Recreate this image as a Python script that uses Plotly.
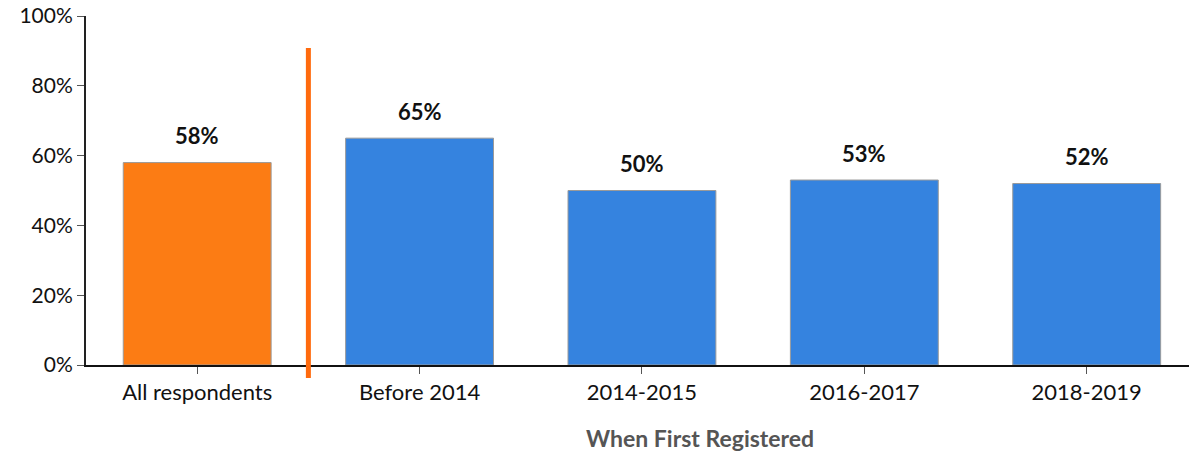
import plotly.graph_objects as go

categories = ["All respondents", "Before 2014", "2014-2015", "2016-2017", "2018-2019"]
values = [58, 65, 50, 53, 52]
labels = ["58%", "65%", "50%", "53%", "52%"]
colors = ["#FC7C14", "#3583DF", "#3583DF", "#3583DF", "#3583DF"]
y_ticks = [0, 20, 40, 60, 80, 100]
y_tick_text = ["0%", "20%", "40%", "60%", "80%", "100%"]
x_title = "When First Registered"

xs = list(range(len(categories)))

fig = go.Figure()
fig.add_trace(go.Bar(
    x=xs, y=values, width=0.665,
    marker=dict(color=colors, line=dict(color="#9A9A9A", width=1)),
    hoverinfo="skip",
))

for xi, v, t in zip(xs, values, labels):
    fig.add_annotation(x=xi, y=v, text="<b>%s</b>" % t, showarrow=False,
                       yshift=27, font=dict(family="Lato", size=22, color="#111111"))

# divider line between "All respondents" and the groups
fig.add_shape(type="line", xref="x", yref="paper", x0=0.5, x1=0.5, y0=-0.037, y1=0.908,
              line=dict(color="#FF6A0D", width=5), layer="above")

fig.add_annotation(xref="x", yref="paper", x=2.26, y=-0.209, yanchor="middle",
                   text="<b>%s</b>" % x_title, showarrow=False,
                   font=dict(family="Lato", size=23, color="#555555"))

fig.update_layout(
    width=1189, height=455,
    margin=dict(l=86, r=0, t=16, b=90),
    paper_bgcolor="white", plot_bgcolor="white",
    showlegend=False,
    font=dict(family="Lato", size=20, color="#111111"),
)
fig.update_xaxes(
    range=[-0.5, 4.46], tickmode="array", tickvals=xs, ticktext=categories,
    showline=True, linecolor="#111111", linewidth=2,
    ticks="outside", tickson="boundaries", ticklen=7, tickcolor="#555555",
    showgrid=False, zeroline=False, tickfont=dict(size=22), automargin=False,
)
fig.update_yaxes(
    range=[0, 100], tickmode="array", tickvals=y_ticks, ticktext=y_tick_text,
    showline=True, linecolor="#222222", linewidth=2,
    ticks="outside", ticklen=7, tickcolor="#555555", ticklabeloverflow="allow",
    showgrid=False, zeroline=False, tickfont=dict(size=21), automargin=False,
)

fig.write_html("out.html", config={"displayModeBar": False},
               post_script="document.body.style.margin='0';")
